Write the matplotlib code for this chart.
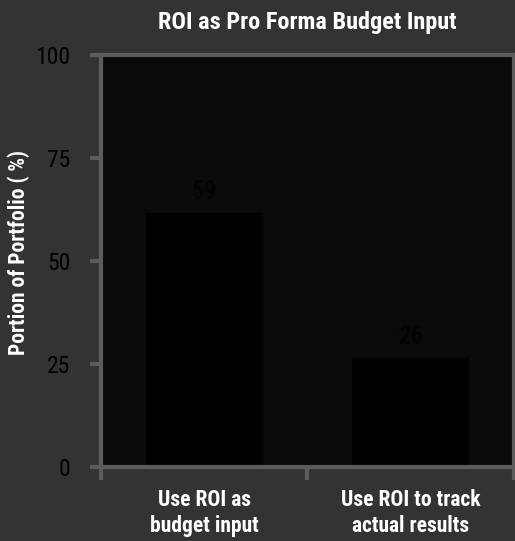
import matplotlib
matplotlib.use("Agg")
import matplotlib.pyplot as plt

categories = ["Use ROI as\nbudget input", "Use ROI to track\nactual results"]
bar_heights = [61.6, 26.5]
bar_labels = ["59", "26"]
y_ticks = [0, 25, 50, 75, 100]

plt.rcParams["font.family"] = ["Roboto Condensed", "Liberation Sans Narrow", "DejaVu Sans"]

fig = plt.figure(figsize=(5.15, 5.41), dpi=100, facecolor="#333333")
ax = fig.add_axes([0.196, 0.137, 0.802, 0.761])
ax.set_facecolor("#0a0a0a")

xs = list(range(len(categories)))
ax.bar(xs, bar_heights, width=0.565, color="#000000", zorder=2)
for x, h, lab in zip(xs, bar_heights, bar_labels):
    ax.text(x, h + 2.2, lab, ha="center", va="bottom", fontsize=18,
            fontweight="bold", color="#040404", zorder=3)

ax.set_xlim(-0.5, 1.5)
ax.set_ylim(0, 100)

spine_col = "#5c5c5c"
for s in ax.spines.values():
    s.set_color(spine_col)
    s.set_linewidth(3)

ax.set_yticks(y_ticks)
ax.tick_params(axis="y", length=8, width=3, color=spine_col, pad=14,
               labelsize=17, labelcolor="#000000")

# major ticks on category boundaries, labels on minor ticks at centres
ax.set_xticks([-0.5, 0.5, 1.5])
ax.set_xticklabels([])
ax.set_xticks(xs, minor=True)
ax.set_xticklabels(categories, minor=True, fontsize=15.5, fontweight="bold",
                   color="white", linespacing=1.2)
ax.tick_params(axis="x", which="major", length=9, width=3, color=spine_col)
ax.tick_params(axis="x", which="minor", length=0, pad=16)

fig.text(19 / 515, 1 - 253 / 541, "Portion of Portfolio ( %)", rotation=90,
         ha="center", va="center", fontsize=15.5, fontweight="bold", color="white")
fig.text((101 + 514) / 2 / 515, 1 - 22 / 541, "ROI as Pro Forma Budget Input",
         ha="center", va="center", fontsize=17.5, fontweight="bold", color="white")

fig.savefig("out.png", dpi=100, facecolor=fig.get_facecolor())
